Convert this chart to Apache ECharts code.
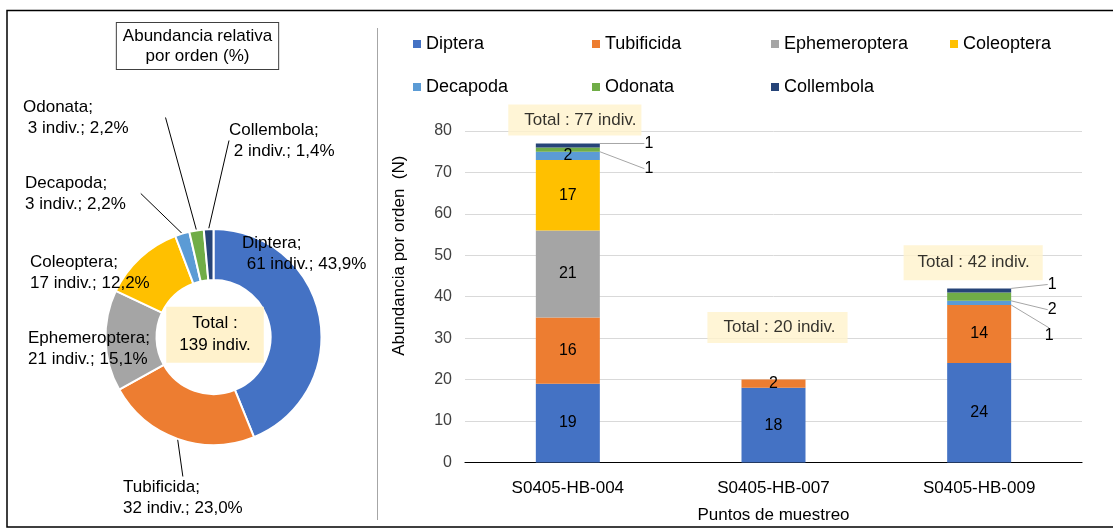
<!DOCTYPE html>
<html>
<head>
<meta charset="utf-8">
<script src="https://cdn.jsdelivr.net/npm/echarts@6/dist/echarts.min.js"></script>
<style>html,body{margin:0;padding:0;background:#fff}#c{width:1113px;height:529px}</style>
</head>
<body>
<div id="c"></div>
<script>
// ---- data ----
const categories = ['S0405-HB-004', 'S0405-HB-007', 'S0405-HB-009'];
const orders = ['Diptera', 'Tubificida', 'Ephemeroptera', 'Coleoptera', 'Decapoda', 'Odonata', 'Collembola'];
const diptera = [19, 18, 24];
const tubificida = [16, 2, 14];
const ephemeroptera = [21, 0, 0];
const coleoptera = [17, 0, 0];
const decapoda = [2, 0, 1];
const odonata = [1, 0, 2];
const collembola = [1, 0, 1];
const yMin = 0, yMax = 80, yStep = 10;
const pieTitle = 'Abundancia relativa\npor orden (%)';
const xName = 'Puntos de muestreo';
const yName = 'Abundancia por orden  (N)';

// ---- styles / layout ----
const colors = ['#4472C4', '#ED7D31', '#A5A5A5', '#FFC000', '#5B9BD5', '#70AD47', '#264478'];
const FONT = '"Liberation Sans", Arial, sans-serif';
const seriesValues = [diptera, tubificida, ephemeroptera, coleoptera, decapoda, odonata, collembola];
const orderTotals = seriesValues.map(a => a.reduce((s, v) => s + v, 0));
const siteTotals = categories.map((c, i) => seriesValues.reduce((s, a) => s + a[i], 0));
const grandTotal = orderTotals.reduce((s, v) => s + v, 0);

// label placement (layout only)
const pieLabelPos = {
  Diptera: [242, 232.5], Tubificida: [123, 476.5], Ephemeroptera: [28, 328],
  Coleoptera: [30, 252], Decapoda: [25, 172.5], Odonata: [23, 96.5], Collembola: [229, 119.5]
};
const pieLabelPad = { Odonata: [0, 37, 0, 0], Decapoda: [0, 15, 0, 0] };
const pieLead = { Diptera: ' ', Odonata: ' ', Collembola: ' ' };
const pieGuide = { Tubificida: true, Decapoda: true, Odonata: true, Collembola: true };
const barShift = {
  Decapoda: { 2: [70, 33] },
  Odonata: { 0: [81, 19], 2: [73, 13] },
  Collembola: { 0: [81, -2], 2: [73, -6] }
};
const totalBox = [
  { offset: [7, -23.5], padding: [7, 5, 7, 16] },
  { offset: [4, -52], padding: [7, 12, 7, 16] },
  { offset: [-6, -25.7], padding: [9, 13, 9, 14] }
];

const chart = echarts.init(document.getElementById('c'), null, { renderer: 'canvas' });

const barSeries = orders.map((name, si) => {
  const shift = barShift[name] || {};
  return {
    name: name,
    type: 'bar',
    stack: 'all',
    barWidth: 64,
    itemStyle: { color: colors[si] },
    label: {
      show: true, position: 'inside', color: '#000', fontSize: 16, fontFamily: FONT,
      formatter: p => p.value
    },
    labelLine: { show: false, lineStyle: { color: '#A6A6A6', width: 1 } },
    labelLayout: function (p) {
      const s = shift[p.dataIndex];
      return s ? { dx: s[0], dy: s[1] } : {};
    },
    data: seriesValues[si].map((v, i) => {
      if (v === 0) return '-';
      if (shift[i]) return { value: v, labelLine: { show: true, lineStyle: { color: '#A6A6A6', width: 1 } } };
      return v;
    }),
    silent: true
  };
});

const option = {
  animation: false,
  textStyle: { fontFamily: FONT },
  color: colors,
  legend: {
    data: orders,
    left: 413, top: 27.5, width: 740, padding: 0,
    itemWidth: 8, itemHeight: 8, itemGap: 10,
    icon: 'rect',
    textStyle: { fontSize: 18, color: '#000', width: 156, lineHeight: 33, fontFamily: FONT },
    selectedMode: false
  },
  grid: { left: 465, right: 31, top: 131, bottom: 66.6, containLabel: false },
  xAxis: {
    type: 'category',
    data: categories,
    name: xName, nameLocation: 'middle', nameGap: 44,
    nameTextStyle: { fontSize: 17, color: '#000', fontFamily: FONT },
    axisLine: { lineStyle: { color: '#000', width: 1.2 } },
    axisTick: { show: false },
    axisLabel: { fontSize: 17, color: '#000', margin: 17, fontFamily: FONT }
  },
  yAxis: {
    type: 'value', min: yMin, max: yMax, interval: yStep,
    name: yName, nameLocation: 'middle', nameGap: 57, nameRotate: 90,
    nameTextStyle: { fontSize: 17, color: '#000', fontFamily: FONT, padding: [0, 0, 0, 82] },
    axisLine: { show: false },
    axisTick: { show: false },
    axisLabel: { fontSize: 16, color: '#404040', margin: 13, fontFamily: FONT },
    splitLine: { lineStyle: { color: '#D9D9D9', width: 1 } }
  },
  series: [
    {
      type: 'pie',
      name: 'pie',
      center: [213.5, 337],
      radius: [57, 108],
      startAngle: 90,
      clockwise: true,
      avoidLabelOverlap: false,
      itemStyle: { borderColor: '#fff', borderWidth: 2 },
      label: {
        show: true, position: 'outside', color: '#000', fontSize: 17, lineHeight: 21, fontFamily: FONT,
        formatter: p => p.name + ';\n' + (pieLead[p.name] || '') + p.value + ' indiv.; ' +
          (p.value / grandTotal * 100).toFixed(1).replace('.', ',') + '%'
      },
      labelLine: { show: true, length: 15, length2: 0, lineStyle: { color: '#000', width: 1 } },
      labelLayout: function (p) {
        const pos = pieLabelPos[orders[p.dataIndex]];
        return { x: pos[0], y: pos[1], align: 'left', verticalAlign: 'top' };
      },
      data: orders.map((n, i) => ({
        name: n, value: orderTotals[i],
        itemStyle: { color: colors[i] },
        label: pieLabelPad[n] ? { padding: pieLabelPad[n] } : {},
        labelLine: { show: !!pieGuide[n] }
      })),
      silent: true
    },
    ...barSeries,
    {
      type: 'scatter',
      name: 'Total',
      symbolSize: 1,
      itemStyle: { color: 'rgba(0,0,0,0)' },
      z: 10,
      silent: true,
      data: siteTotals.map((t, i) => ({
        value: t,
        label: {
          show: true, position: 'inside', offset: totalBox[i].offset,
          padding: totalBox[i].padding,
          backgroundColor: '#FFF2CC', color: '#000', fontSize: 17, fontFamily: FONT,
          formatter: 'Total : {c} indiv.'
        }
      }))
    }
  ],
  graphic: [
    {
      type: 'rect', silent: true, z: 100,
      shape: { x: 7, y: 10.5, width: 1110, height: 516.5 },
      style: { fill: 'none', stroke: '#000', lineWidth: 1.5 }
    },
    {
      type: 'line', silent: true, z: 100,
      shape: { x1: 377.5, y1: 28, x2: 377.5, y2: 520 },
      style: { stroke: '#A6A6A6', lineWidth: 1 }
    },
    {
      type: 'text', silent: true, z: 100,
      x: 197.5, y: 46,
      style: {
        text: pieTitle, align: 'center', verticalAlign: 'middle',
        font: '17px ' + FONT, lineHeight: 20, fill: '#000',
        backgroundColor: '#fff', borderColor: '#404040', borderWidth: 1, padding: [3, 6]
      }
    },
    {
      type: 'text', silent: true, z: 100,
      x: 215, y: 334.7,
      style: {
        text: 'Total :\n' + grandTotal + ' indiv.', align: 'center', verticalAlign: 'middle',
        font: '17px ' + FONT, lineHeight: 22, fill: '#000',
        backgroundColor: '#FFF2CC', padding: [6, 13]
      }
    }
  ]
};
chart.setOption(option);
</script>
</body>
</html>
